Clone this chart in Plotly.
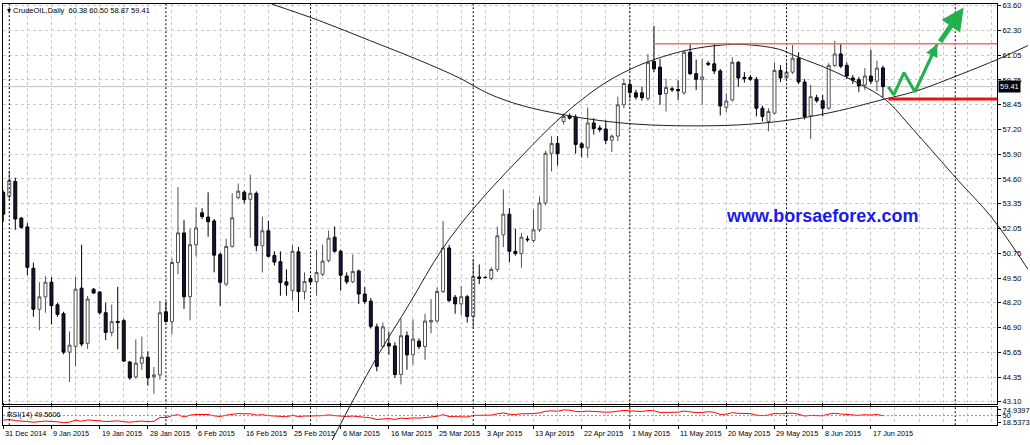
import plotly.graph_objects as go
import numpy as np

# ---------------- data ----------------
time_labels = ["31 Dec 2014", "9 Jan 2015", "19 Jan 2015", "28 Jan 2015", "6 Feb 2015",
               "16 Feb 2015", "25 Feb 2015", "6 Mar 2015", "16 Mar 2015", "25 Mar 2015",
               "3 Apr 2015", "13 Apr 2015", "22 Apr 2015", "1 May 2015", "11 May 2015",
               "20 May 2015", "29 May 2015", "8 Jun 2015", "17 Jun 2015"]
label_every = 8
price_tick_text = ["43.10", "44.35", "45.65", "46.90", "48.20", "49.50", "50.75", "52.05", "53.35",
                   "54.60", "55.90", "57.20", "58.45", "59.75", "61.05", "62.30", "63.60"]
price_min, price_max = 43.10, 63.60

opens = [53.94, 53.73, 54.50, 52.61, 52.15, 50.01, 47.89, 48.53, 49.29, 48.12,
         47.66, 45.67, 45.97, 48.98, 46.13, 48.93, 48.78, 47.71, 46.69, 47.26,
         47.30, 45.16, 44.39, 45.10, 45.41, 44.39, 44.49, 47.76, 47.25, 50.31,
         51.84, 48.54, 51.23, 52.88, 52.66, 52.46, 50.72, 49.19, 51.14, 53.67,
         53.95, 53.58, 53.89, 51.18, 51.95, 50.67, 50.35, 49.31, 48.85, 50.86,
         48.80, 49.48, 49.31, 49.70, 50.41, 51.62, 50.89, 49.61, 49.31, 49.87,
         48.68, 48.31, 46.98, 45.96, 46.13, 45.99, 44.51, 46.52, 45.53, 46.24,
         45.96, 47.23, 47.28, 48.81, 51.06, 48.51, 48.17, 48.54, 47.52, 49.56,
         49.54, 49.48, 49.95, 51.74, 52.81, 50.89, 50.77, 51.52, 51.45, 52.00,
         53.39, 55.96, 56.47, 57.61, 57.90, 57.83, 56.45, 56.25, 57.53, 57.27,
         57.22, 56.64, 56.85, 58.47, 59.52, 59.09, 59.09, 58.80, 60.71, 60.42,
         59.06, 59.30, 59.26, 59.09, 61.19, 60.08, 59.77, 60.62, 60.59, 60.22,
         58.34, 58.72, 60.67, 59.89, 59.89, 59.79, 58.29, 57.61, 58.04, 60.25,
         59.86, 60.16, 60.88, 59.65, 57.90, 58.84, 58.68, 58.29, 60.51, 61.10,
         60.51, 59.86, 59.77, 59.49, 59.96, 59.69, 60.38]
highs = [54.04, 55.06, 54.70, 52.66, 52.35, 50.31, 49.29, 49.60, 49.55, 48.22,
         47.76, 46.74, 49.55, 51.23, 48.58, 48.98, 48.83, 48.22, 48.13, 49.05,
         47.40, 45.21, 46.33, 46.48, 45.72, 44.90, 48.32, 48.28, 50.52, 54.21,
         52.51, 52.05, 53.17, 53.12, 53.94, 52.56, 50.82, 51.54, 53.89, 54.40,
         54.04, 54.86, 53.99, 52.68, 52.46, 50.89, 50.89, 49.95, 51.23, 51.11,
         49.80, 49.65, 50.98, 51.23, 51.96, 52.17, 50.98, 49.80, 50.72, 49.95,
         49.04, 48.47, 47.15, 47.20, 46.74, 46.18, 47.40, 46.74, 47.37, 46.38,
         47.66, 48.42, 49.02, 52.46, 51.23, 48.63, 49.10, 48.63, 50.47, 50.21,
         49.60, 50.06, 52.17, 54.09, 53.12, 52.05, 51.84, 51.69, 53.05, 53.73,
         56.08, 56.85, 56.85, 58.02, 58.02, 57.97, 56.54, 58.33, 57.78, 57.41,
         57.66, 56.93, 58.89, 59.82, 59.76, 59.25, 59.40, 61.10, 62.55, 60.84,
         59.82, 59.40, 59.74, 61.27, 61.61, 60.81, 60.84, 60.73, 61.66, 60.32,
         59.06, 60.93, 60.73, 60.16, 60.01, 59.91, 58.43, 58.29, 60.67, 60.52,
         60.67, 61.56, 61.19, 59.81, 59.50, 58.99, 58.99, 60.62, 61.78, 61.61,
         60.67, 60.01, 59.91, 60.37, 61.32, 60.76, 60.50]
lows = [52.41, 53.53, 52.00, 52.05, 49.65, 47.50, 46.80, 47.71, 47.11, 47.50,
        45.56, 44.13, 44.95, 45.97, 45.83, 48.68, 47.61, 46.30, 46.48, 45.82,
        45.16, 44.24, 44.29, 44.75, 43.93, 43.52, 44.25, 47.20, 46.60, 49.70,
        47.91, 47.31, 50.63, 52.56, 51.64, 49.80, 48.06, 49.09, 51.08, 53.58,
        53.37, 51.59, 50.89, 49.79, 50.57, 50.16, 48.59, 48.59, 48.34, 47.74,
        48.39, 49.19, 48.59, 49.60, 50.31, 50.82, 48.85, 49.19, 49.24, 48.17,
        48.17, 46.89, 44.68, 45.90, 45.53, 44.34, 44.00, 44.76, 45.02, 45.82,
        45.27, 46.64, 47.20, 48.73, 48.27, 47.66, 47.57, 47.20, 46.93, 49.19,
        49.50, 49.39, 49.82, 51.11, 50.33, 50.67, 50.04, 51.38, 51.33, 51.89,
        53.27, 55.02, 55.32, 57.46, 57.71, 55.94, 55.74, 55.74, 56.93, 57.05,
        56.44, 56.03, 56.59, 58.29, 58.80, 58.74, 58.68, 58.68, 60.16, 58.47,
        58.12, 59.14, 58.72, 58.99, 60.01, 59.23, 58.47, 60.47, 60.06, 57.92,
        58.09, 58.63, 59.40, 59.62, 59.70, 57.87, 57.61, 57.10, 57.97, 59.65,
        59.76, 60.06, 59.55, 57.71, 56.70, 58.58, 57.87, 58.22, 60.42, 60.37,
        59.81, 59.55, 59.14, 59.23, 59.55, 59.18, 58.87]
closes = [52.81, 54.55, 52.56, 52.13, 50.06, 47.89, 48.53, 49.29, 48.08, 47.62,
          45.67, 46.03, 48.93, 46.09, 48.42, 48.73, 47.71, 46.69, 47.25, 47.20,
          45.21, 44.34, 45.10, 45.41, 44.34, 44.49, 47.71, 47.26, 50.31, 51.84,
          48.54, 51.23, 52.10, 52.68, 52.42, 50.69, 49.29, 51.14, 52.62, 54.00,
          53.56, 53.89, 51.18, 51.95, 50.63, 50.33, 49.27, 49.14, 50.89, 48.80,
          49.33, 49.31, 49.79, 50.38, 51.57, 50.89, 49.65, 49.31, 49.84, 48.68,
          48.29, 47.01, 44.94, 46.98, 45.99, 44.51, 46.52, 45.53, 46.35, 45.96,
          47.28, 47.31, 48.81, 51.06, 48.34, 48.17, 48.54, 47.52, 49.58, 49.48,
          49.53, 49.95, 51.69, 52.81, 50.89, 50.77, 51.62, 51.49, 52.00, 53.39,
          55.96, 56.47, 55.94, 57.87, 57.78, 56.42, 56.25, 57.53, 57.24, 57.19,
          56.63, 56.85, 58.47, 59.57, 59.11, 58.87, 58.84, 60.67, 60.33, 59.01,
          59.36, 59.25, 59.20, 61.19, 60.08, 59.79, 59.91, 60.57, 60.22, 58.41,
          58.67, 60.67, 59.86, 59.82, 59.79, 58.29, 57.87, 58.12, 60.25, 59.86,
          60.16, 60.88, 59.65, 57.87, 58.89, 58.68, 58.29, 60.51, 61.10, 60.47,
          59.96, 59.74, 59.45, 59.96, 59.69, 60.37, 59.41]

rsi_values = [30, 33, 28, 27, 24, 21, 23, 26, 24, 23,
              18.5373, 21, 30, 25, 31, 30, 27, 24, 27, 27,
              23, 21, 24, 26, 23, 25, 42, 41, 50, 54,
              44, 52, 55, 56, 55, 49, 46, 52, 56, 59,
              58, 58, 52, 54, 50, 49, 46, 45, 51, 46,
              48, 47, 49, 50, 53, 50, 47, 46, 48, 45,
              43, 40, 33, 35, 37, 33, 39, 37, 40, 39,
              43, 44, 47, 54, 46, 45, 46, 44, 51, 51,
              51, 52, 58, 62, 56, 55, 58, 57, 59, 62,
              69, 71, 69, 74.9397, 74, 68, 67, 70, 68, 67,
              65, 66, 70, 73, 71, 69, 68, 72, 71, 64,
              65, 65, 65, 70, 65, 63, 64, 67, 65, 55,
              56, 63, 60, 60, 59, 52, 50, 52, 60, 58,
              59, 61, 56, 48, 51, 51, 49, 57, 60, 57,
              55, 53, 51, 54, 52, 55, 49.5606]
rsi_min, rsi_max = 18.5373, 74.9397

month_separator_bars = [1, 27, 51, 78, 104, 130, 158]

# hand-drawn objects (bar index, price)
arc_down_bars = [54.6, 58.3, 62.4, 67.4, 72.8, 78.5, 86.1, 92.7, 98.9, 103.8, 108.3, 113.8,
                 119.2, 122.9, 128.7, 132.0, 137.0, 142.4, 146.4, 151.0, 158.5, 164.0, 170.1]
arc_down_prices = [41.12, 43.32, 45.62, 48.17, 50.98, 53.27, 55.83, 57.87, 59.40, 60.27, 60.84,
                   61.32, 61.56, 61.59, 61.35, 60.93, 60.32, 59.50, 58.74, 57.20, 54.55, 52.66, 49.95]
arc_up_bars = [44.5, 52.5, 60.8, 69.0, 75.7, 80.6, 86.1, 92.7, 98.9, 105.5, 113.8, 122.0,
               128.7, 134.1, 140.3, 145.2, 151.4, 159.0, 165.1, 170.1]
arc_up_prices = [63.69, 62.82, 61.80, 60.78, 59.86, 59.04, 58.43, 57.97, 57.66, 57.46, 57.38,
                 57.43, 57.61, 57.87, 58.28, 58.68, 59.17, 60.06, 60.83, 61.54]
resistance_level, resistance_start = 61.63, 108.2
support_level, support_start = 58.77, 146.9
zigzag_bars = [146.9, 147.8, 149.5, 151.3, 155.0]
zigzag_prices = [59.40, 58.98, 60.13, 59.14, 61.61]
big_arrow_tail = (155.3, 61.66)
big_arrow_tip = (159.4, 63.50)
watermark = "www.borsaeforex.com"
watermark_pos = (135.9, 52.71)

# ---------------- geometry (pixels) ----------------
W, H = 1030, 445
BAR0_PX, BAR_PX = 3.26, 6.037         # pixel x of bar 0, pixels per bar
PRICE_TOP, PRICE_PER_PX = 63.738, 0.05105
plot_l, plot_r = 3, 999
main_t, main_b = 1, 406
rsi_t, rsi_b = 410, 428
RSI_TOP_PX, RSI_BOT_PX = 412.5, 425.5


def bar_at(px):
    return (px - BAR0_PX) / BAR_PX


def price_at(py):
    return PRICE_TOP - PRICE_PER_PX * py


def rsi_at(py):
    k = (rsi_max - rsi_min) / (RSI_BOT_PX - RSI_TOP_PX)
    return rsi_max - (py - RSI_TOP_PX) * k


bars = list(range(len(opens)))
FONT = "Liberation Sans"
GRID = "#c8c8c8"

fig = go.Figure()
fig.add_trace(go.Candlestick(
    x=bars, open=opens, high=highs, low=lows, close=closes,
    increasing=dict(line=dict(color="#505050", width=1), fillcolor="#ffffff"),
    decreasing=dict(line=dict(color="#000000", width=1), fillcolor="#14143c"),
    whiskerwidth=0, xaxis="x", yaxis="y", showlegend=False, hoverinfo="skip"))

fig.add_trace(go.Scatter(x=bars, y=rsi_values, mode="lines", line=dict(color="#ff0000", width=1),
                         xaxis="x", yaxis="y2", showlegend=False, hoverinfo="skip"))

# drawings on full-figure overlay axes
for bx, py in ((arc_down_bars, arc_down_prices), (arc_up_bars, arc_up_prices)):
    fig.add_trace(go.Scatter(x=bx, y=py, mode="lines", line=dict(color="#202020", width=1, shape="spline"),
                             xaxis="x3", yaxis="y3", showlegend=False, hoverinfo="skip"))

fig.add_trace(go.Scatter(x=zigzag_bars, y=zigzag_prices, mode="lines",
                         line=dict(color="#22b14c", width=3), xaxis="x3", yaxis="y3",
                         showlegend=False, hoverinfo="skip"))

shapes = []
# month separators
for b in month_separator_bars:
    shapes.append(dict(type="line", xref="x", yref="paper", x0=b, x1=b,
                       y0=1 - rsi_b / H, y1=1 - main_t / H,
                       line=dict(color="#000000", width=1, dash="2px,2px")))
# bid line
shapes.append(dict(type="line", xref="x domain", yref="y", x0=0, x1=1, y0=closes[-1], y1=closes[-1],
                   line=dict(color="#c0c0c0", width=1), layer="below"))
# resistance & support
x_right = bar_at(plot_r)
shapes.append(dict(type="line", xref="x3", yref="y3", x0=resistance_start, x1=x_right,
                   y0=resistance_level, y1=resistance_level, line=dict(color="#f07070", width=1.5)))
shapes.append(dict(type="line", xref="x3", yref="y3", x0=support_start, x1=x_right,
                   y0=support_level, y1=support_level, line=dict(color="#ee1111", width=3)))
# RSI 50 level
shapes.append(dict(type="line", xref="x domain", yref="y2", x0=0, x1=1, y0=50, y1=50,
                   line=dict(color="#909090", width=1, dash="2px,2px")))

annotations = []
# time labels
for k, lab in enumerate(time_labels):
    annotations.append(dict(x=k * label_every, y=1 - 436.5 / H, xref="x", yref="paper", text=lab,
                            showarrow=False, xanchor="left", yanchor="middle", xshift=0,
                            font=dict(family=FONT, size=7.3, color="#000000")))
# header
annotations.append(dict(x=5 / W, y=1 - 7.5 / H, xref="paper", yref="paper", xanchor="left", yanchor="middle",
                        showarrow=False,
                        text=f"▾ CrudeOIL,Daily  {opens[-1]:.2f} {highs[-1]:.2f} {lows[-1]:.2f} {closes[-1]:.2f}",
                        font=dict(family=FONT, size=7.5, color="#000000")))
# RSI label
annotations.append(dict(x=5 / W, y=1 - 417.5 / H, xref="paper", yref="paper", xanchor="left", yanchor="middle",
                        showarrow=False, text=f"RSI(14) {rsi_values[-1]:.4f}",
                        font=dict(family=FONT, size=7.3, color="#000000")))
# last price box
annotations.append(dict(x=(plot_r + 1) / W, y=closes[-1], xref="paper", yref="y", xanchor="left",
                        yanchor="middle", showarrow=False, text=f"{closes[-1]:.2f}", bgcolor="#000000",
                        borderpad=1, font=dict(family=FONT, size=7.5, color="#ffffff")))
# watermark
annotations.append(dict(x=watermark_pos[0], y=watermark_pos[1], xref="x3", yref="y3", showarrow=False,
                        text=f"<b>{watermark}</b>", font=dict(family="Liberation Sans", size=18, color="#1a1af0")))
# arrows
annotations.append(dict(x=zigzag_bars[-1], y=zigzag_prices[-1], ax=zigzag_bars[-2], ay=zigzag_prices[-2],
                        xref="x3", yref="y3", axref="x3", ayref="y3", text="", showarrow=True,
                        arrowhead=2, arrowsize=1, arrowwidth=2.5, arrowcolor="#22b14c"))
annotations.append(dict(x=big_arrow_tip[0], y=big_arrow_tip[1], ax=big_arrow_tail[0], ay=big_arrow_tail[1],
                        xref="x3", yref="y3", axref="x3", ayref="y3", text="", showarrow=True,
                        arrowhead=2, arrowsize=0.9, arrowwidth=5, arrowcolor="#22b14c"))

tick_font = dict(family=FONT, size=7.5, color="#000000")
minor_vals = [v for v in range(4, int(bar_at(plot_r)) + 1, 4) if v % label_every or v > (len(time_labels) - 1) * label_every]

fig.update_layout(
    width=W, height=H, margin=dict(l=0, r=0, t=0, b=0),
    paper_bgcolor="#ffffff", plot_bgcolor="rgba(0,0,0,0)",
    shapes=shapes, annotations=annotations, showlegend=False,
    xaxis=dict(domain=[plot_l / W, plot_r / W], range=[bar_at(plot_l), bar_at(plot_r)], anchor="y2",
               tickmode="array", tickvals=[k * label_every for k in range(len(time_labels))],
               showticklabels=False, ticks="outside", ticklen=3, tickcolor="#000000",
               showgrid=True, gridcolor=GRID, griddash="3px,3px", gridwidth=1,
               minor=dict(tickmode="array", tickvals=minor_vals, showgrid=True, gridcolor=GRID,
                          griddash="3px,3px", gridwidth=1, ticks=""),
               showline=True, linecolor="#000000", linewidth=1, mirror="all",
               zeroline=False, rangeslider=dict(visible=False)),
    yaxis=dict(domain=[1 - main_b / H, 1 - main_t / H], range=[price_at(main_b), price_at(main_t)],
               anchor="x", side="right", tickmode="array",
               tickvals=list(np.linspace(price_min, price_max, len(price_tick_text))),
               ticktext=price_tick_text, ticks="outside", ticklen=3, tickcolor="#000000",
               tickfont=tick_font, showgrid=True, gridcolor=GRID, griddash="3px,3px",
               showline=True, linecolor="#000000", mirror=True, zeroline=False),
    yaxis2=dict(domain=[1 - rsi_b / H, 1 - rsi_t / H], range=[rsi_at(rsi_b), rsi_at(rsi_t)],
                anchor="x", side="right", tickmode="array", tickvals=[rsi_min, 50, rsi_max],
                ticktext=[f"{rsi_min:.4f}", "50", f"{rsi_max:.4f}"], ticks="outside", ticklen=3,
                tickcolor="#000000", tickfont=tick_font, showgrid=False,
                showline=True, linecolor="#000000", mirror=True, zeroline=False),
    xaxis3=dict(domain=[0, 1], range=[bar_at(0), bar_at(W)], anchor="y3", visible=False, fixedrange=True),
    yaxis3=dict(domain=[0, 1], range=[price_at(H), price_at(0)], anchor="x3", visible=False, fixedrange=True),
)

fig.write_html("out.html", config={"displayModeBar": False, "staticPlot": True},
               post_script="document.body.style.margin='0px';document.body.style.overflow='hidden';")
